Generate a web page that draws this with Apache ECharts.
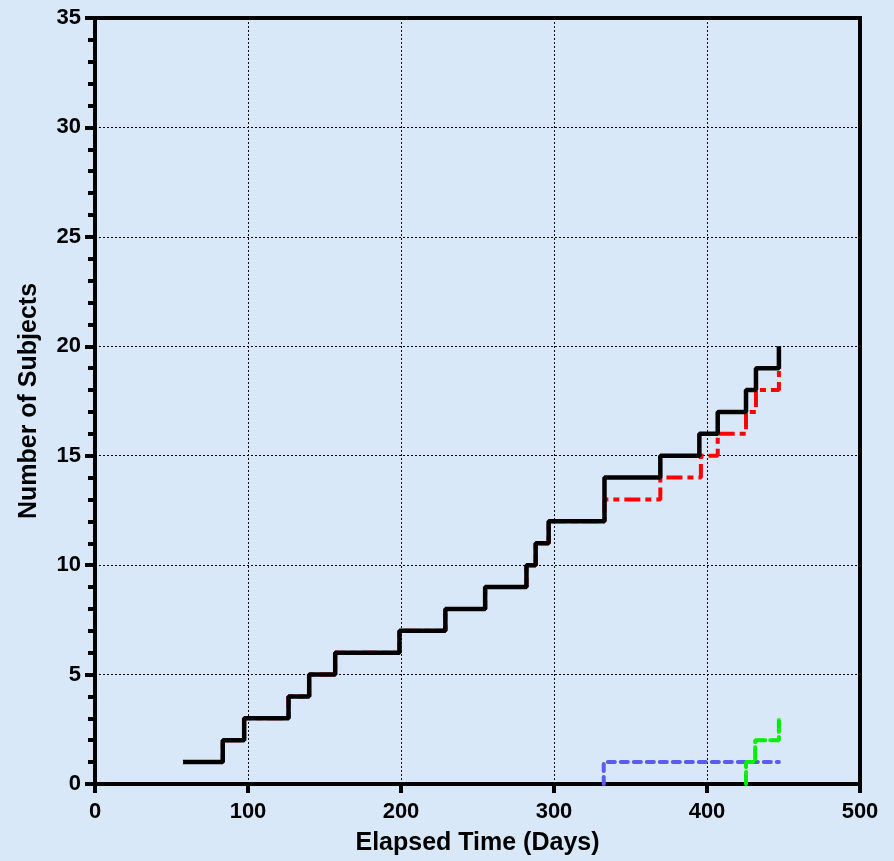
<!DOCTYPE html>
<html>
<head>
<meta charset="utf-8">
<script src="https://cdn.jsdelivr.net/npm/echarts@6/dist/echarts.min.js"></script>
<style>
  html, body { margin: 0; padding: 0; background: #d8e8f9; }
  #main { width: 894px; height: 861px; }
</style>
</head>
<body>
<div id="main"></div>
<script>
  // [elapsed days, number of subjects] - count jumps at each time
  const totalSteps = [
    [57.5, 1], [83.5, 2], [97.5, 3], [126.5, 4], [140, 5], [157, 6], [199, 7],
    [229, 8], [255, 9], [282, 10], [288, 11], [296.5, 12], [333, 14],
    [369.5, 15], [395, 16], [407, 17], [425.5, 18], [432, 19], [447, 20]
  ]
  const redSteps = [
    [57.5, 1], [83.5, 2], [97.5, 3], [126.5, 4], [140, 5], [157, 6], [199, 7],
    [229, 8], [255, 9], [282, 10], [288, 11], [296.5, 12], [333, 13],
    [369.5, 14], [396, 15], [407, 16], [425.5, 17], [432, 18], [447, 19]
  ]
  const blueSteps = [[332.5, 0], [332.5, 1], [447, 1]]
  const greenSteps = [[425.5, 0], [425.5, 1], [431.5, 2], [447, 3]]

  const xTicks = [0, 100, 200, 300, 400, 500]
  const yTicks = [0, 5, 10, 15, 20, 25, 30, 35]

  const tickFont = { fontFamily: 'Liberation Sans, Arial', fontWeight: 'bold', fontSize: 22, color: '#000' }
  const nameFont = { fontFamily: 'Liberation Sans, Arial', fontWeight: 'bold', fontSize: 25, color: '#000' }

  const myChart = echarts.init(document.getElementById('main'))
  const option = {
    backgroundColor: '#d8e8f9',
    animation: false,
    grid: {
      left: 95, right: 34, top: 18, bottom: 76,
      show: true, borderColor: '#000', borderWidth: 4, backgroundColor: 'transparent'
    },
    xAxis: {
      type: 'value',
      min: xTicks[0],
      max: xTicks[xTicks.length - 1],
      interval: 100,
      name: 'Elapsed Time (Days)',
      nameLocation: 'middle',
      nameGap: 47,
      nameTextStyle: nameFont,
      axisLine: { show: true, onZero: false, lineStyle: { color: '#000', width: 4 } },
      axisTick: { show: true, length: 9, lineStyle: { color: '#000', width: 4 } },
      axisLabel: Object.assign({ margin: 17 }, tickFont),
      splitLine: { show: true, lineStyle: { color: '#000', width: 1, type: [2, 2] } }
    },
    yAxis: {
      type: 'value',
      min: yTicks[0],
      max: yTicks[yTicks.length - 1],
      interval: 5,
      name: 'Number of Subjects',
      nameLocation: 'middle',
      nameGap: 53,
      nameTextStyle: nameFont,
      axisLine: { show: true, onZero: false, lineStyle: { color: '#000', width: 4 } },
      axisTick: { show: true, length: 10, lineStyle: { color: '#000', width: 4 } },
      minorTick: { show: true, splitNumber: 5, length: 7, lineStyle: { color: '#000', width: 4 } },
      axisLabel: Object.assign({ margin: 14 }, tickFont),
      splitLine: { show: true, lineStyle: { color: '#000', width: 1, type: [2, 2] } }
    },
    series: [
      {
        name: 'Red', type: 'line', step: 'end', data: redSteps, symbol: 'none', z: 2,
        lineStyle: { color: '#ff0000', width: 4, type: [16, 5, 6, 5], cap: 'butt' }
      },
      {
        name: 'Total', type: 'line', step: 'end', data: totalSteps, symbol: 'none', z: 3,
        lineStyle: { color: '#000', width: 4.5 }
      },
      {
        name: 'Blue', type: 'line', step: 'end', data: blueSteps, symbol: 'none', z: 2,
        lineStyle: { color: '#5b5bf0', width: 4, type: [7, 6], cap: 'round' }
      },
      {
        name: 'Green', type: 'line', step: 'end', data: greenSteps, symbol: 'none', z: 4,
        lineStyle: { color: '#00ee00', width: 4, type: [12, 5], cap: 'round' }
      }
    ]
  }
  myChart.setOption(option)
</script>
</body>
</html>
